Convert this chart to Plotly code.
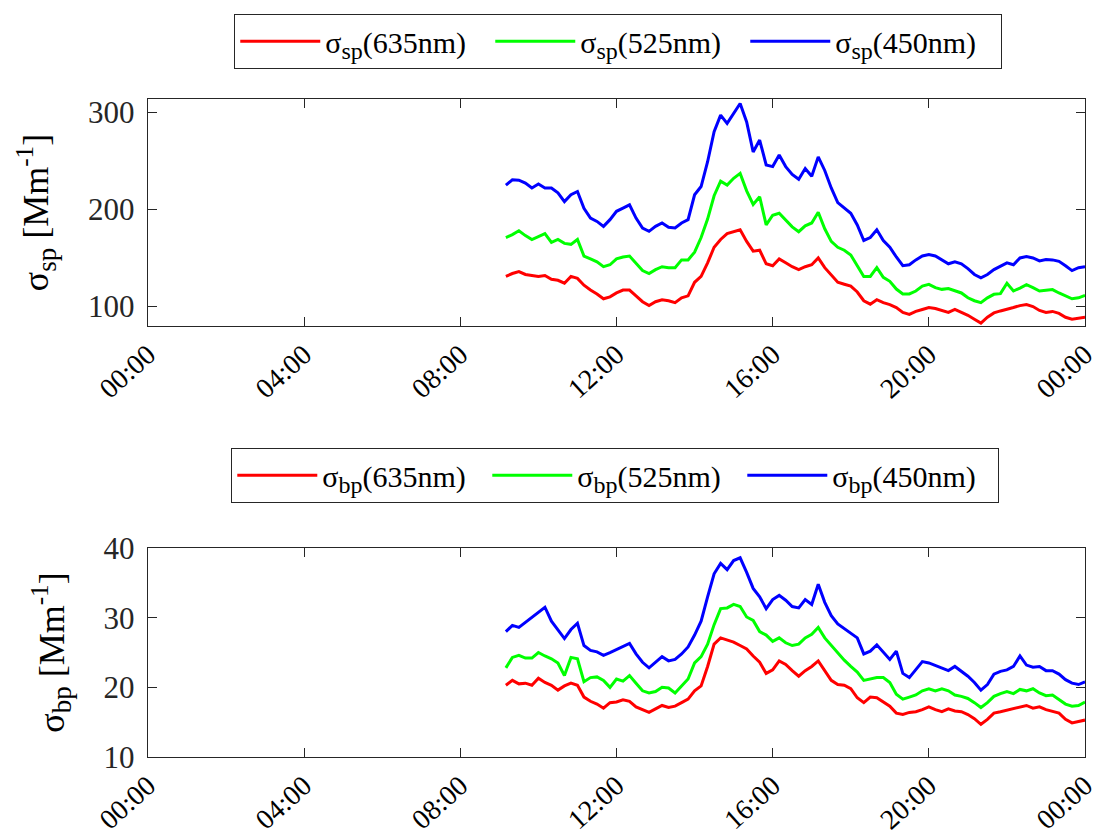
import pandas as pd
import plotly.graph_objects as go
from plotly.subplots import make_subplots

# 10-minute samples from 09:10 to 24:00
times = pd.date_range("2021-01-01 09:10", periods=90, freq="10min")

# Scattering coefficient sigma_sp [Mm^-1]
sp_635 = [131, 134, 136, 133, 132, 131, 132, 128, 127, 124,
          131, 129, 122, 117, 113, 108, 110, 114, 117, 117,
          111, 105, 101, 105, 107, 106, 104, 109, 111, 125,
          131, 145, 161, 169, 175, 177, 179, 167, 157, 158,
          144, 142, 149, 145, 141, 138, 141, 143, 150, 140,
          132, 125, 123, 121, 115, 106, 102.5, 107, 104, 102,
          99, 94, 92, 95, 97, 99, 98, 96, 94, 97,
          94, 91, 87, 83, 89, 93.5, 95.5, 97, 99, 101,
          102, 100, 96, 94, 95, 93, 89, 87, 88, 89]
sp_525 = [171, 174, 178, 173, 169, 172, 175, 166, 169, 165,
          164, 169, 152, 149, 146, 141, 143, 149, 151, 152,
          145, 137, 134, 138, 141, 140, 140, 148, 148, 156,
          171, 190, 214, 229, 225, 232, 237, 219, 205, 213,
          184, 194, 196, 189, 182, 177, 183, 186, 197, 180,
          167, 161, 158, 153, 142, 131, 131, 140, 130, 126,
          118, 113, 113, 116, 121, 122.8, 119.4, 117.7, 118.5, 116,
          114, 109, 106, 104, 109, 112.6, 113.3, 124, 116, 119,
          122.5, 119.5, 116, 116.7, 117.5, 114, 111, 108, 109, 111.5]
sp_450 = [225, 230.4, 230, 227, 222, 226, 222, 222, 217, 208,
          215, 218.4, 201, 191, 187.6, 182.5, 189.4, 198, 201.3, 204.7,
          191, 180.8, 177.4, 182.5, 186, 181.5, 180.8, 186, 189.4, 215,
          223.5, 249, 280, 297, 288.4, 298.6, 308.9, 290, 259, 271.3,
          245.7, 244, 256, 244, 236, 231, 242, 234, 254, 240,
          222, 207, 201, 196, 184, 168, 171, 179, 168, 161,
          151, 142, 143, 148, 152, 153.5, 152, 148, 144, 146,
          144, 139, 133, 129.6, 133, 138, 141.6, 145, 143, 150,
          151.5, 150, 147, 148.5, 148, 146.5, 142, 137, 140, 141]

# Absorption coefficient sigma_bp [Mm^-1]
bp_635 = [20.3, 21.0, 20.5, 20.6, 20.3, 21.3, 20.7, 20.3, 19.6, 20.2,
          20.6, 20.3, 18.6, 18.0, 17.6, 17.0, 17.8, 17.9, 18.2, 18.0,
          17.2, 16.8, 16.4, 16.9, 17.4, 17.1, 17.3, 17.8, 18.3, 19.5,
          20.2, 23.0, 26.2, 27.1, 26.8, 26.5, 26.0, 25.5, 24.5, 23.6,
          22.0, 22.5, 23.8, 23.3, 22.4, 21.6, 22.4, 23.0, 23.8, 22.3,
          21.0, 20.4, 20.3, 19.8, 18.5, 17.8, 18.6, 18.5, 17.9, 17.3,
          16.3, 16.1, 16.4, 16.5, 16.8, 17.2, 16.8, 16.5, 16.9, 16.6,
          16.5, 16.1, 15.5, 14.7, 15.4, 16.3, 16.5, 16.7, 17.0, 17.2,
          17.4, 17.0, 17.2, 16.8, 16.5, 16.3, 15.4, 14.9, 15.1, 15.3]
bp_525 = [22.8, 24.3, 24.6, 24.2, 24.2, 25.0, 24.5, 24.1, 23.5, 21.7,
          24.3, 24.1, 20.8, 21.4, 21.5, 21.0, 20.0, 21.2, 20.9, 21.7,
          20.6, 19.5, 19.2, 19.4, 20.0, 19.9, 19.2, 20.2, 21.2, 23.5,
          24.4, 26.2, 29.0, 31.3, 31.4, 31.9, 31.6, 30.1, 29.6, 28.0,
          27.5, 26.6, 27.1, 26.4, 26.0, 26.2, 27.1, 27.6, 28.6, 27.1,
          26.0, 24.9, 23.9, 23.0, 22.2, 21.0, 21.2, 21.4, 21.4, 20.7,
          19.0, 18.3, 18.6, 18.9, 19.5, 19.8, 19.5, 19.8, 19.5, 18.9,
          18.7, 18.4, 17.8, 17.1, 17.8, 18.7, 19.1, 19.4, 19.1, 19.7,
          19.5, 19.8, 19.2, 18.8, 18.9, 18.3, 17.6, 17.3, 17.4, 17.9]
bp_450 = [28.0, 28.9, 28.6, 29.3, 30.1, 30.8, 31.5, 29.5, 28.3, 27.0,
          28.3, 29.2, 26.0, 25.3, 25.1, 24.6, 25.0, 25.4, 25.8, 26.3,
          24.8, 23.6, 22.8, 23.6, 24.4, 23.8, 24.0, 24.8, 25.8, 27.5,
          29.5, 33.0, 36.3, 37.8, 36.9, 38.2, 38.6, 36.5, 34.2, 33.0,
          31.3, 32.6, 33.2, 32.5, 31.6, 31.4, 32.6, 31.9, 34.8, 32.2,
          30.3, 29.1, 28.4, 27.8, 27.1, 24.8, 25.2, 26.1, 25.1, 24.0,
          25.2, 22.0, 21.4, 22.6, 23.7, 23.5, 23.1, 22.8, 22.4, 23.0,
          22.3, 21.6, 20.7, 19.6, 20.4, 21.9, 22.3, 22.5, 23.0, 24.5,
          23.2, 22.9, 23.0, 22.4, 22.4, 21.9, 21.1, 20.6, 20.4, 20.8]

wavelengths = ["635nm", "525nm", "450nm"]
colors = ["#ff0000", "#00ff00", "#0000ff"]
sp_series = [sp_635, sp_525, sp_450]
bp_series = [bp_635, bp_525, bp_450]

FONT = "Liberation Serif, Times New Roman, serif"
AXIS_COLOR = "#262626"


def sub(text, size):
    return f"<sub><span style='font-size:{size}px'>{text}</span></sub>"


fig = make_subplots(rows=2, cols=1)

for wl, col, ys in zip(wavelengths, colors, sp_series):
    fig.add_trace(go.Scatter(x=times, y=ys, mode="lines",
                             line=dict(color=col, width=3),
                             name=f"σ{sub('sp', 24)}({wl})", legend="legend"),
                  row=1, col=1)
for wl, col, ys in zip(wavelengths, colors, bp_series):
    fig.add_trace(go.Scatter(x=times, y=ys, mode="lines",
                             line=dict(color=col, width=3),
                             name=f"σ{sub('bp', 24)}({wl})", legend="legend2"),
                  row=2, col=1)

x_common = dict(
    type="date",
    range=["2021-01-01 00:00", "2021-01-02 00:00"],
    tickvals=pd.date_range("2021-01-01 00:00", periods=7, freq="4h"),
    tickformat="%H:%M",
    tickangle=-42,
    ticks="inside", ticklen=9, tickcolor=AXIS_COLOR, tickwidth=1,
    showline=True, linecolor=AXIS_COLOR, linewidth=1.3, mirror="ticks",
    showgrid=False, zeroline=False, automargin=False,
    tickfont=dict(family=FONT, size=28, color="#000000"),
)
y_common = dict(
    ticks="inside", ticklen=9, tickcolor=AXIS_COLOR, tickwidth=1,
    showline=True, linecolor=AXIS_COLOR, linewidth=1.3, mirror="ticks",
    showgrid=False, zeroline=False, automargin=False,
    ticklabelstandoff=6,
    tickfont=dict(family=FONT, size=31, color="#262626"),
    title_font=dict(family=FONT, size=36, color="#000000"),
)

legend_common = dict(
    orientation="h", xanchor="left", yanchor="top",
    bordercolor="#262626", borderwidth=1.3, bgcolor="white",
    itemwidth=80, entrywidth=160, entrywidthmode="pixels",
    font=dict(family=FONT, size=30, color="#000000"),
)

fig.update_layout(
    width=1101, height=840,
    margin=dict(l=0, r=0, t=0, b=0, autoexpand=False),
    paper_bgcolor="white", plot_bgcolor="white",
    font=dict(family=FONT, color="#000000"),
    xaxis=dict(domain=[0.1344, 0.9855], anchor="y", **x_common),
    yaxis=dict(domain=[0.6119, 0.8821], anchor="x",
               range=[80, 313.5], tickvals=[100, 200, 300],
               title=dict(text=f"σ{sub('sp', 27)} [Mm<sup>-1</sup>]", standoff=28),
               **y_common),
    xaxis2=dict(domain=[0.1344, 0.9855], anchor="y2", **x_common),
    yaxis2=dict(domain=[0.0988, 0.3476], anchor="x2",
                range=[10, 40], tickvals=[10, 20, 30, 40],
                title=dict(text=f"σ{sub('bp', 27)} [Mm<sup>-1</sup>]", standoff=28),
                **y_common),
    legend=dict(x=0.2125, y=0.9833, **legend_common),
    legend2=dict(x=0.2098, y=0.4667, **legend_common),
)

fig.write_html("out.html")
